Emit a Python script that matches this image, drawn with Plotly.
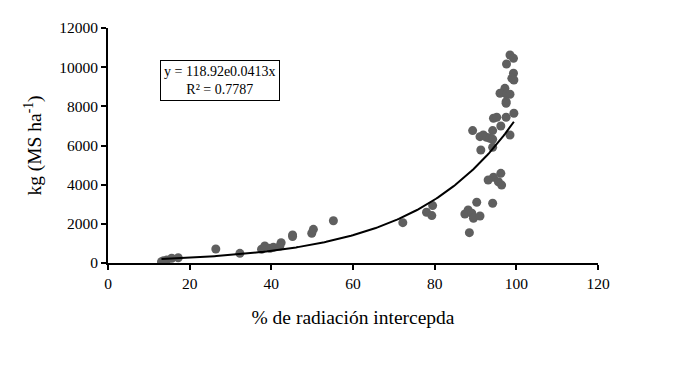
import numpy as np
import plotly.graph_objects as go

# % radiación interceptada
rad = [13.1, 14.4, 15.6, 17.2, 13.6, 26.4, 32.3, 37.6, 38.4, 39.7, 40.5, 42.4, 42.1,
       45.2, 45.2, 49.9, 50.3, 55.2, 72.2, 78.0, 79.3, 79.5,
       98.45, 99.3, 97.6, 99.3, 98.9, 99.4, 97.2, 96.0, 97.6, 98.45, 97.5, 97.5,
       99.4, 97.5, 94.4, 95.2, 96.2, 89.3, 94.2, 98.45, 91.1, 91.9, 92.7, 93.5,
       94.2, 91.3, 94.2, 96.2, 94.4, 93.1, 95.6, 96.4, 90.3, 94.2, 88.2, 87.4,
       89.1, 89.5, 91.1, 88.5]
# kg MS ha-1
kg = [66, 150, 240, 270, 120, 715, 495, 700, 870, 750, 800, 1040, 870,
      1430, 1350, 1517, 1720, 2160, 2060, 2590, 2420, 2930,
      10623, 10450, 10163, 9690, 9430, 9346, 8920, 8667, 8615, 8615, 8240, 8155,
      7645, 7440, 7390, 7440, 6995, 6760, 6760, 6535, 6450, 6535, 6420, 6365,
      6320, 5770, 5910, 4580, 4380, 4240, 4150, 3980, 3100, 3050, 2707, 2500,
      2540, 2280, 2400, 1550]

coef_a = 118.92
coef_b = 0.0413
fit_x = np.linspace(min(rad), max(rad), 200)
fit_y = coef_a * np.exp(coef_b * fit_x)

x_ticks = [0, 20, 40, 60, 80, 100, 120]
y_ticks = [0, 2000, 4000, 6000, 8000, 10000, 12000]

font = "Liberation Serif"

fig = go.Figure()
fig.add_trace(go.Scatter(x=rad, y=kg, mode="markers",
                         marker=dict(color="#5f5f5f", size=9),
                         showlegend=False, hoverinfo="skip"))
fig.add_trace(go.Scatter(x=fit_x, y=fit_y, mode="lines",
                         line=dict(color="black", width=2),
                         showlegend=False, hoverinfo="skip"))

fig.update_layout(
    width=682, height=373,
    margin=dict(l=100, r=92, t=20, b=118),
    paper_bgcolor="white", plot_bgcolor="white",
    font=dict(family=font, size=15.5, color="black"),
    xaxis=dict(range=[0, 120], tickvals=x_ticks, tickformat="d", showgrid=False, zeroline=False,
               automargin=False,
               showline=True, linecolor="black", linewidth=2,
               ticks="outside", ticklen=5, tickwidth=1.5, tickcolor="black",
               title=dict(text="% de radiación intercepda", font=dict(family=font, size=19.5), standoff=20)),
    yaxis=dict(range=[0, 12000], tickvals=y_ticks, tickformat="d", showgrid=False, zeroline=False,
               automargin=False,
               showline=True, linecolor="black", linewidth=2,
               ticks="outside", ticklen=5, tickwidth=1.5, tickcolor="black",
               title=dict(text="kg (MS ha<sup>-1</sup>)", font=dict(family=font, size=19.5), standoff=12)),
    annotations=[dict(
        x=0.2286, y=0.7766, xref="paper", yref="paper",
        xanchor="center", yanchor="middle", showarrow=False,
        text="y = 118.92e0.0413x<br>R² = 0.7787",
        font=dict(family=font, size=14, color="black"),
        bordercolor="black", borderwidth=1, borderpad=3, bgcolor="white", align="center")]
)

fig.write_html("out.html")
